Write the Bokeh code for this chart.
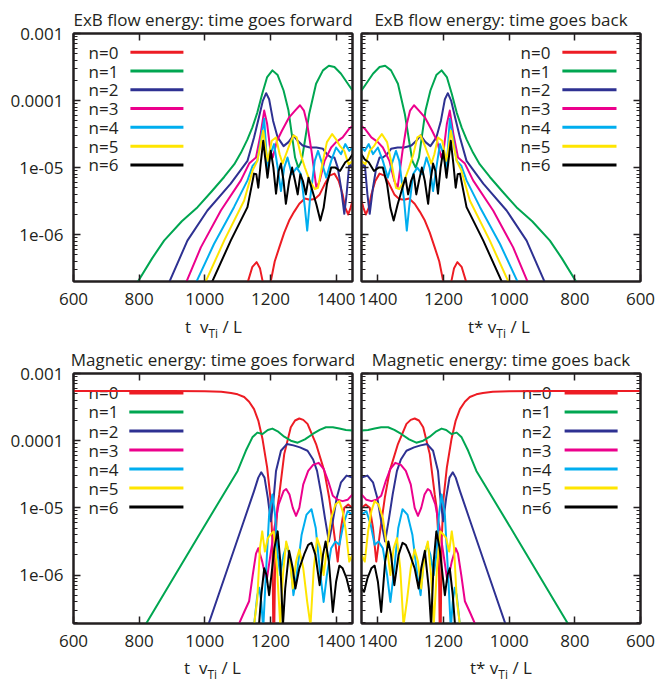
from bokeh.plotting import figure
from bokeh.models import Range1d, FixedTicker, LogAxis, LinearAxis, Div
from bokeh.layouts import column, row
from bokeh.embed import file_html
from bokeh.resources import INLINE
from bokeh.core.properties import value

FONT = "Open Sans"
INK = "#231F20"
COLORS = ["#ED1C24", "#00A651", "#2E3192", "#EC008C", "#00AEEF", "#FFE500", "#000000"]
series_labels = ["n=0", "n=1", "n=2", "n=3", "n=4", "n=5", "n=6"]
x_ticks = [600, 800, 1000, 1200, 1400]
y_ticks = [1e-6, 1e-5, 1e-4, 1e-3]
y_tick_labels = ["1e-06", "1e-05", "0.0001", "0.001"]

# ---- ExB flow energy (values read as log10 of the energy) ----
exb_t0 = [1122, 1132, 1145, 1158, 1168, 1176, 1183, 1193, 1200, 1213, 1227, 1242, 1257, 1272, 1288, 1305, 1320, 1335, 1350, 1365, 1380, 1395, 1408, 1420, 1428, 1437, 1444, 1450]
exb_lg0 = [-7.0, -6.69, -6.48, -6.41, -6.5, -6.69, -7.3, -7.3, -6.72, -6.4, -6.19, -5.97, -5.79, -5.66, -5.54, -5.46, -5.48, -5.47, -5.4, -5.25, -5.12, -5.09, -5.2, -5.4, -5.6, -5.7, -5.6, -5.5]
exb_t1 = [790, 840, 876, 930, 978, 1020, 1059, 1090, 1110, 1130, 1145, 1160, 1175, 1190, 1206, 1222, 1240, 1255, 1265, 1275, 1285, 1295, 1305, 1318, 1339, 1360, 1378, 1395, 1415, 1440, 1450]
exb_lg1 = [-6.75, -6.35, -6.09, -5.80, -5.59, -5.36, -5.14, -4.95, -4.78, -4.58, -4.40, -4.18, -3.90, -3.65, -3.55, -3.62, -3.85, -4.15, -4.5, -4.85, -5.0, -4.9, -4.6, -4.2, -3.75, -3.55, -3.48, -3.50, -3.60, -3.78, -3.85]
exb_t2 = [888, 947, 1008, 1079, 1130, 1150, 1165, 1177, 1187, 1196, 1208, 1222, 1240, 1255, 1270, 1283, 1298, 1320, 1340, 1360, 1372, 1385, 1395, 1405, 1415, 1425, 1432, 1440, 1450]
exb_lg2 = [-6.75, -6.09, -5.64, -5.24, -4.90, -4.55, -4.25, -4.0, -3.89, -3.98, -4.3, -4.55, -4.68, -4.62, -4.52, -4.6, -4.67, -4.70, -4.70, -4.72, -4.8, -4.85, -4.85, -5.0, -5.3, -5.69, -5.4, -4.95, -5.0]
exb_t3 = [940, 988, 1049, 1110, 1135, 1156, 1170, 1181, 1190, 1200, 1207, 1220, 1235, 1257, 1275, 1290, 1302, 1312, 1325, 1340, 1350, 1365, 1385, 1400, 1420, 1440, 1450]
exb_lg3 = [-6.75, -6.19, -5.64, -5.19, -4.94, -4.85, -4.5, -4.15, -4.35, -4.75, -4.85, -4.6, -4.45, -4.25, -4.15, -4.07, -4.15, -4.35, -4.75, -5.3, -5.2, -4.9, -4.7, -4.62, -4.55, -4.42, -4.38]
exb_t4 = [970, 1028, 1089, 1130, 1146, 1160, 1170, 1181, 1191, 1200, 1211, 1222, 1232, 1242, 1252, 1265, 1280, 1293, 1305, 1312, 1320, 1335, 1345, 1358, 1370, 1385, 1400, 1415, 1428, 1440, 1450]
exb_lg4 = [-6.75, -6.14, -5.59, -5.19, -4.97, -4.9, -4.6, -4.27, -5.05, -4.8, -4.65, -5.0, -5.35, -5.0, -4.85, -5.1, -5.0, -5.1, -5.6, -5.94, -5.5, -4.9, -4.75, -4.95, -5.15, -4.9, -4.7, -4.8, -4.65, -4.75, -4.7]
exb_t5 = [998, 1059, 1120, 1146, 1160, 1170, 1178, 1186, 1192, 1204, 1217, 1228, 1237, 1255, 1270, 1280, 1292, 1305, 1320, 1335, 1345, 1358, 1372, 1388, 1400, 1412, 1425, 1438, 1450]
exb_lg5 = [-6.75, -6.09, -5.49, -5.04, -4.9, -4.65, -4.45, -4.75, -4.9, -4.6, -4.55, -4.8, -4.94, -4.7, -4.52, -4.55, -4.8, -5.0, -5.2, -5.32, -5.3, -4.95, -4.62, -4.5, -4.58, -4.68, -4.75, -4.95, -4.9]
exb_t6 = [1018, 1079, 1130, 1140, 1150, 1157, 1163, 1170, 1178, 1185, 1191, 1201, 1209, 1217, 1225, 1232, 1240, 1247, 1257, 1266, 1275, 1283, 1291, 1299, 1308, 1316, 1328, 1340, 1352, 1362, 1372, 1385, 1398, 1412, 1428, 1440, 1450]
exb_lg6 = [-6.75, -6.09, -5.59, -5.34, -5.09, -5.1, -5.3, -4.95, -4.6, -4.9, -5.15, -4.75, -5.0, -5.39, -5.05, -4.94, -5.2, -5.54, -5.2, -5.0, -5.2, -5.4, -5.1, -5.2, -5.4, -5.15, -5.35, -5.55, -5.79, -5.6, -5.25, -5.0, -5.0, -5.05, -4.92, -4.88, -4.8]

# ---- Magnetic energy (values read as log10 of the energy) ----
mag_t0 = [600, 700, 800, 900, 1000, 1050, 1080, 1100, 1120, 1135, 1150, 1163, 1176, 1190, 1200, 1206, 1210, 1215, 1221, 1227, 1242, 1262, 1275, 1288, 1300, 1313, 1339, 1364, 1379, 1392, 1405, 1415, 1425, 1437, 1450]
mag_lg0 = [-3.26, -3.26, -3.26, -3.262, -3.265, -3.27, -3.29, -3.31, -3.35, -3.42, -3.53, -3.7, -3.98, -4.4, -4.85, -5.5, -7.5, -5.5, -5.0, -4.8, -4.2, -3.8, -3.7, -3.67, -3.69, -3.75, -4.05, -4.45, -4.85, -5.3, -5.8, -5.3, -5.0, -4.95, -5.0]
mag_t1 = [818, 978, 1100, 1125, 1145, 1160, 1176, 1192, 1206, 1222, 1242, 1262, 1283, 1305, 1329, 1350, 1369, 1390, 1410, 1430, 1450]
mag_lg1 = [-6.75, -5.44, -4.45, -4.15, -3.95, -3.88, -3.9, -3.84, -3.82, -3.86, -3.94, -4.0, -4.03, -3.98, -3.9, -3.84, -3.8, -3.8, -3.82, -3.84, -3.85]
mag_t2 = [1010, 1064, 1120, 1150, 1163, 1172, 1182, 1192, 1201, 1209, 1217, 1232, 1250, 1270, 1290, 1313, 1330, 1342, 1355, 1366, 1378, 1390, 1402, 1415, 1432, 1450]
mag_lg2 = [-6.75, -5.98, -5.18, -4.75, -4.55, -4.47, -4.55, -4.85, -5.2, -4.9, -4.45, -4.15, -4.05, -4.07, -4.1, -4.15, -4.28, -4.45, -4.8, -5.15, -5.5, -5.2, -4.85, -4.62, -4.52, -4.55]
mag_t3 = [1102, 1120, 1135, 1146, 1156, 1163, 1175, 1188, 1200, 1212, 1225, 1240, 1248, 1258, 1268, 1278, 1288, 1300, 1315, 1330, 1347, 1362, 1376, 1390, 1405, 1420, 1435, 1450]
mag_lg3 = [-6.75, -6.55, -6.39, -6.0, -5.68, -5.6, -5.8, -6.1, -5.7, -5.3, -4.95, -4.75, -4.72, -4.8, -5.0, -5.12, -5.0, -4.65, -4.45, -4.36, -4.33, -4.42, -4.6, -4.82, -4.88, -4.9, -4.88, -4.8]
mag_t4 = [1150, 1160, 1166, 1172, 1178, 1186, 1196, 1206, 1214, 1222, 1230, 1240, 1250, 1260, 1270, 1280, 1295, 1310, 1325, 1338, 1350, 1362, 1372, 1385, 1398, 1410, 1422, 1435, 1450]
mag_lg4 = [-6.75, -6.3, -6.19, -6.4, -6.8, -6.0, -5.1, -4.8, -5.1, -5.7, -6.0, -5.7, -5.55, -5.75, -6.3, -6.0, -5.4, -5.1, -5.02, -5.3, -5.9, -6.4, -6.0, -5.6, -5.5, -5.55, -5.25, -5.05, -5.1]
mag_t5 = [1150, 1160, 1168, 1175, 1183, 1192, 1200, 1210, 1220, 1230, 1238, 1248, 1258, 1268, 1278, 1288, 1300, 1312, 1322, 1332, 1342, 1352, 1362, 1372, 1385, 1398, 1410, 1420, 1430, 1440, 1450]
mag_lg5 = [-6.75, -6.35, -5.6, -5.35, -5.65, -5.45, -5.4, -5.35, -5.9, -6.75, -6.0, -5.5, -5.7, -6.2, -5.8, -5.62, -5.9, -6.4, -6.75, -5.9, -5.45, -5.6, -6.0, -5.6, -5.15, -4.95, -4.9, -5.05, -5.35, -5.8, -5.7]
mag_t6 = [1165, 1172, 1181, 1188, 1196, 1203, 1212, 1222, 1230, 1238, 1245, 1257, 1268, 1276, 1288, 1303, 1315, 1325, 1337, 1350, 1360, 1368, 1378, 1390, 1400, 1410, 1420, 1432, 1442, 1450]
mag_lg6 = [-6.75, -6.3, -5.9, -6.0, -6.3, -6.0, -5.6, -5.35, -5.8, -6.75, -6.2, -5.64, -5.9, -6.2, -5.9, -5.69, -5.55, -5.52, -5.7, -6.15, -5.7, -5.5, -5.8, -6.55, -6.1, -5.86, -5.9, -6.05, -6.25, -6.2]

exb_t = [exb_t0, exb_t1, exb_t2, exb_t3, exb_t4, exb_t5, exb_t6]
exb_lg = [exb_lg0, exb_lg1, exb_lg2, exb_lg3, exb_lg4, exb_lg5, exb_lg6]
mag_t = [mag_t0, mag_t1, mag_t2, mag_t3, mag_t4, mag_t5, mag_t6]
mag_lg = [mag_lg0, mag_lg1, mag_lg2, mag_lg3, mag_lg4, mag_lg5, mag_lg6]

minor_y = [m * 10.0 ** e for e in range(-7, -3) for m in range(2, 10)]


def style_axis(ax, show_labels, ticks):
    ax.axis_line_color = INK
    ax.axis_line_width = 2
    ax.major_tick_line_color = INK
    ax.major_tick_line_width = 1.5
    ax.major_tick_in = 7
    ax.major_tick_out = 0
    ax.minor_tick_line_color = INK
    ax.minor_tick_line_width = 1.2
    ax.minor_tick_in = 4
    ax.minor_tick_out = 0
    ax.axis_label = None
    ax.major_label_text_font = FONT
    ax.major_label_text_color = INK
    if show_labels:
        ax.major_label_text_font_size = "17px"
        ax.major_label_standoff = 10
    else:
        ax.major_label_text_font_size = "1px"
        ax.major_label_standoff = 0
        ax.major_label_overrides = {t: "" for t in ticks}


def make_panel(title, ts, lgs, reverse, left_labels, width, height,
               bl, br, bt, bb, ylo, leg_text, leg_l0, leg_l1, leg_top, leg_step):
    xr = Range1d(1450, 600) if reverse else Range1d(600, 1450)
    yr = Range1d(ylo, 1e-3)
    p = figure(width=width, height=height, x_range=xr, y_range=yr, y_axis_type="log",
               output_backend="svg", toolbar_location=None,
               min_border_left=bl, min_border_right=br, min_border_top=bt, min_border_bottom=bb)
    p.grid.visible = False
    p.outline_line_color = INK
    p.outline_line_width = 2
    p.background_fill_color = "white"
    p.border_fill_color = "white"
    p.title.text = title
    p.title.align = "center"
    p.title.text_font = FONT
    p.title.text_font_size = "17px"
    p.title.text_font_style = "normal"
    p.title.text_color = INK
    p.title.standoff = 6

    p.xaxis.ticker = FixedTicker(ticks=x_ticks, minor_ticks=[])
    p.yaxis.ticker = FixedTicker(ticks=y_ticks, minor_ticks=minor_y)
    for ax in p.xaxis:
        style_axis(ax, True, x_ticks)
        ax.major_label_standoff = 11
    for ax in p.yaxis:
        style_axis(ax, left_labels, y_ticks)
        if left_labels:
            ax.major_label_overrides = dict(zip(y_ticks, y_tick_labels))
    top = LinearAxis(ticker=FixedTicker(ticks=x_ticks, minor_ticks=[]))
    style_axis(top, False, x_ticks)
    p.add_layout(top, "above")
    right = LogAxis(ticker=FixedTicker(ticks=y_ticks, minor_ticks=minor_y))
    style_axis(right, False, y_ticks)
    p.add_layout(right, "right")

    # legend (key text right aligned, line sample to its right)
    x0, x1 = xr.start, xr.end
    tx = x0 + leg_text * (x1 - x0)
    lx0 = x0 + leg_l0 * (x1 - x0)
    lx1 = x0 + leg_l1 * (x1 - x0)
    ly = [10 ** (leg_top - leg_step * i) for i in range(len(series_labels))]
    p.text(x=[tx] * len(ly), y=ly, text=series_labels, text_align="right",
           text_baseline="middle", text_font=value(FONT), text_font_size="17px",
           text_color=INK)
    p.segment(x0=[lx0] * len(ly), y0=ly, x1=[lx1] * len(ly), y1=ly,
              line_color=COLORS, line_width=3)

    for t, lg, c in zip(ts, lgs, COLORS):
        p.line(x=t, y=[10 ** v for v in lg], line_color=c, line_width=2, line_join="round")
    return p


def xlabel_div(main, width, height, pad, top):
    html = (main + '<span style="font-size:12px;vertical-align:-5px">Ti</span>'
            + '&nbsp;/&nbsp;L')
    return Div(text=html, width=width, height=height, margin=0,
               styles={"font-family": FONT, "font-size": "17px", "line-height": "17px",
                       "padding-left": f"{pad}px", "padding-top": f"{top}px",
                       "color": INK, "white-space": "nowrap",
                       "box-sizing": "border-box", "overflow": "visible"})


tl = make_panel("ExB flow energy: time goes forward",
                exb_t, exb_lg, False, True, 356, 315, 73, 4, 33, 34, 2e-7,
                0.161, 0.204, 0.394, -3.28, 0.28)
tr = make_panel("ExB flow energy: time goes back",
                exb_t, exb_lg, True, False, 300, 315, 5, 16, 33, 34, 2e-7,
                0.677, 0.72, 0.914, -3.28, 0.28)
bl = make_panel("Magnetic energy: time goes forward",
                mag_t, mag_lg, False, True, 356, 316, 73, 4, 33, 33, 1.9e-7,
                0.161, 0.2, 0.394, -3.29, 0.283)
br = make_panel("Magnetic energy: time goes back",
                mag_t, mag_lg, True, False, 300, 316, 5, 16, 33, 33, 1.9e-7,
                0.681, 0.728, 0.918, -3.29, 0.283)

d_tl = xlabel_div("t&nbsp;&nbsp;v", 356, 25, 185, 3)
d_tr = xlabel_div("t*&nbsp;v", 300, 25, 112, 3)
d_bl = xlabel_div("t&nbsp;&nbsp;v", 356, 28, 184, 3)
d_br = xlabel_div("t*&nbsp;v", 300, 28, 114, 3)

layout = column(row(tl, tr), row(d_tl, d_tr), row(bl, br), row(d_bl, d_br))
open("out.html", "w").write(file_html(layout, INLINE))
